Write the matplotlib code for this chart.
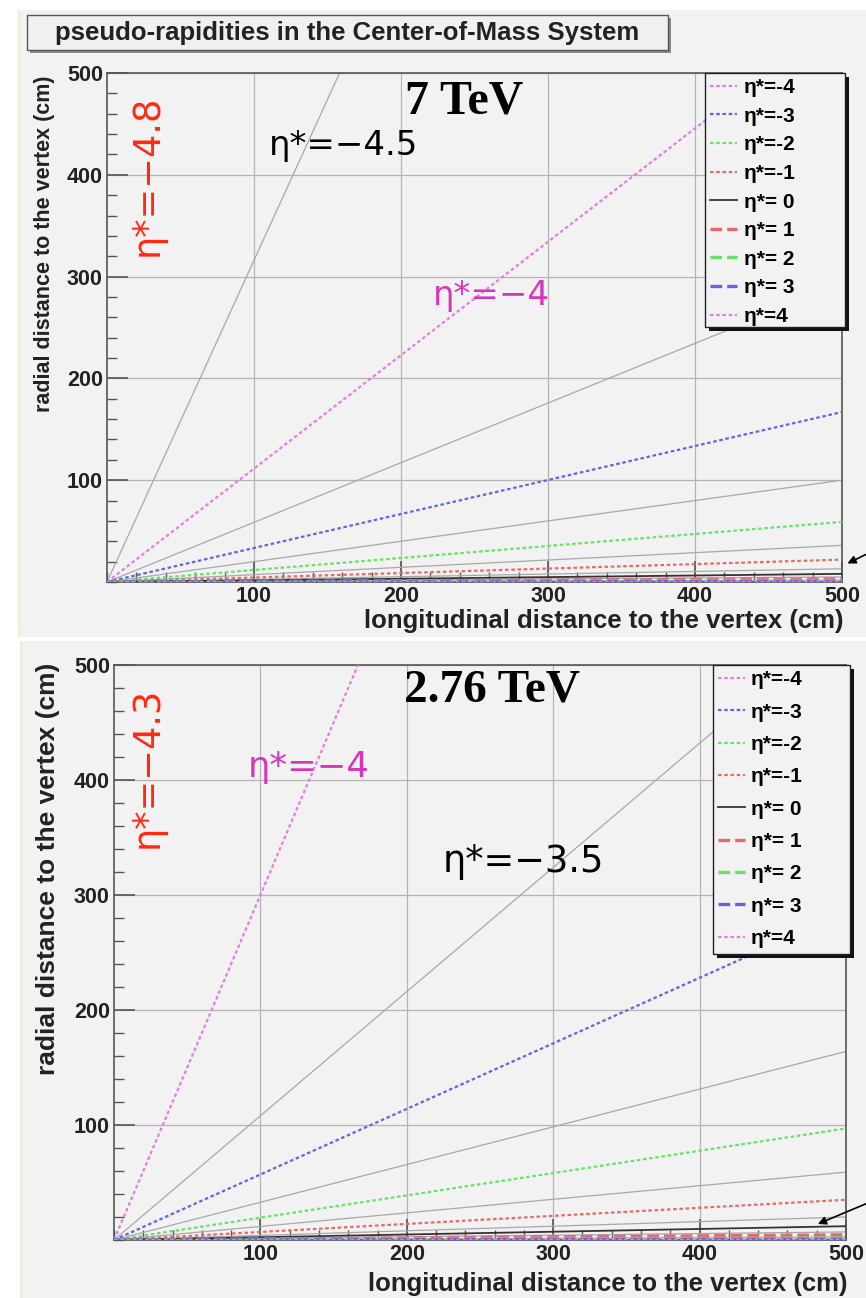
import matplotlib
matplotlib.use("Agg")
import matplotlib.pyplot as plt
from matplotlib.patches import Rectangle
from matplotlib.ticker import MultipleLocator

plt.rcParams['font.family'] = ['Liberation Sans', 'DejaVu Sans']

W, H = 866, 1298

# eta* values of the coloured lines and the legend texts
eta_major = [-4, -3, -2, -1, 0, 1, 2, 3, 4]
legend_labels = ["η*=-4", "η*=-3", "η*=-2", "η*=-1", "η*= 0",
                 "η*= 1", "η*= 2", "η*= 3", "η*=4"]
# radial distance (cm) reached at z = 500 cm
r500_7tev = [557, 167, 59, 22, 8, 3.0, 1.1, 0.4, 0.15]
r500_276tev = [1500, 285, 97, 35, 12, 4.5, 1.6, 0.6, 0.2]

# grey half-integer lines (eta* = -4.5 ... 3.5), r at z = 500 cm
r500_7tev_half = [1580, 293, 100, 36, 13, 5.0, 1.8, 0.7, 0.25]
r500_276tev_half = [540, 164, 59, 20, 7, 2.6, 0.95, 0.35]

z_end = [0, 500]

colors = ['#e27ee2', '#6464e2', '#66e266', '#e66a6a', '#333333',
          '#e66a6a', '#66e266', '#6464e2', '#e27ee2']
styles = [(0, (1.6, 1.2))] * 4 + ['-'] + [(0, (3.5, 1.5))] * 3 + [(0, (1.6, 1.2))]
widths = [1.6] * 4 + [1.3] + [2.4] * 3 + [1.6]

bg = '#f2f2f2'


def px(x, y):
    return x / W, 1 - y / H


def pad_rect(fig, x0, y0, x1, y1, z=-10, **kw):
    fx, fy = px(x0, y1)
    fig.patches.append(Rectangle((fx, fy), (x1 - x0) / W, (y1 - y0) / H,
                                 transform=fig.transFigure, zorder=z, **kw))


def panel(ax, r_major, r_half, leg_box, leg_spacing, ax_px):
    ax.set_facecolor(bg)
    for r in r_half:
        ax.plot(z_end, [0, r], color='#a8a8a8', lw=0.9, zorder=2)
    for i in range(len(eta_major)):
        ax.plot(z_end, [0, r_major[i]], color=colors[i], ls=styles[i],
                lw=widths[i], label=legend_labels[i], zorder=3)
    ax.set_xlim(0, 500)
    ax.set_ylim(0, 500)
    ax.set_xticks([100, 200, 300, 400, 500])
    ax.set_yticks([100, 200, 300, 400, 500])
    ax.xaxis.set_minor_locator(MultipleLocator(20))
    ax.yaxis.set_minor_locator(MultipleLocator(20))
    ax.tick_params(which='major', direction='in', length=15, width=1.2,
                   color='#555555', labelsize=15.5, labelcolor='#222222', pad=3)
    ax.tick_params(which='minor', direction='in', length=7, width=1,
                   color='#555555')
    for lab in ax.get_xticklabels() + ax.get_yticklabels():
        lab.set_fontweight('bold')
    ax.grid(True, which='major', color='#b4b4b4', lw=0.9)
    ax.set_axisbelow(True)
    for s in ax.spines.values():
        s.set_color('#555555')
        s.set_linewidth(1.2)

    # ROOT-style legend box with hard shadow
    x0, y0, x1, y1 = leg_box
    dx, dy = 4 / ax_px[0], 4 / ax_px[1]
    ax.add_patch(Rectangle((x0 + dx, y0 - dy), x1 - x0, y1 - y0,
                           transform=ax.transAxes, facecolor='#111111',
                           edgecolor='none', clip_on=False, zorder=8))
    ax.add_patch(Rectangle((x0, y0), x1 - x0, y1 - y0,
                           transform=ax.transAxes, facecolor=bg,
                           edgecolor='#222222', lw=1.0, clip_on=False, zorder=9))
    leg = ax.legend(loc='upper left', bbox_to_anchor=(x0, y1),
                    labelspacing=leg_spacing,
                    handlelength=1.3, handletextpad=0.3, borderpad=0.25,
                    borderaxespad=0.0, frameon=False,
                    prop={'weight': 'bold', 'size': 15})
    leg.set_zorder(10)


fig = plt.figure(figsize=(W / 100, H / 100), dpi=100, facecolor='white')

# ROOT canvas pads
pad_rect(fig, 18, 10, 866, 637, facecolor=bg, edgecolor='none')
pad_rect(fig, 20, 641, 866, 1298, facecolor=bg, edgecolor='none')
pad_rect(fig, 18, 10, 20, 637, facecolor='#efeccf', edgecolor='none')
pad_rect(fig, 20, 641, 22, 1298, facecolor='#efeccf', edgecolor='none')

# title box
pad_rect(fig, 30, 18, 671, 53, z=5, facecolor='#8a8a8a', edgecolor='none')
pad_rect(fig, 27, 15, 668, 50, z=6, facecolor='#f0f0f0', edgecolor='#555555', lw=1)
fig.text(*px(347, 33), "pseudo-rapidities in the Center-of-Mass System",
         ha='center', va='center', fontsize=18.5, fontweight='bold',
         color='#222222', zorder=7)

# top panel: 7 TeV
ax1 = fig.add_axes([107 / W, 1 - 582 / H, 735 / W, 509 / H])
panel(ax1, r500_7tev, r500_7tev_half, (0.8136, 0.501, 1.004, 1.0), 0.46,
      (735, 509))

# bottom panel: 2.76 TeV
ax2 = fig.add_axes([114 / W, 1 - 1240 / H, 732 / W, 575 / H])
panel(ax2, r500_276tev, r500_276tev_half, (0.818, 0.497, 1.005, 1.0), 0.64,
      (732, 575))

# axis titles
fig.text(*px(843, 621), "longitudinal distance to the vertex (cm)",
         ha='right', va='center', fontsize=18.5, fontweight='bold', color='#222222')
fig.text(*px(847, 1284), "longitudinal distance to the vertex (cm)",
         ha='right', va='center', fontsize=18.5, fontweight='bold', color='#222222')
fig.text(*px(45, 75), "radial distance to the vertex (cm)", rotation=90,
         ha='center', va='top', fontsize=15.5, fontweight='bold', color='#222222')
fig.text(*px(48, 663), "radial distance to the vertex (cm)", rotation=90,
         ha='center', va='top', fontsize=19, fontweight='bold', color='#222222')

# annotations
ann = dict(family='DejaVu Sans')
fig.text(*px(464, 102), "7 TeV", ha='center', va='center', fontsize=34.5,
         fontweight='bold', family='Liberation Serif', color='black')
fig.text(*px(492, 691), "2.76 TeV", ha='center', va='center', fontsize=34,
         fontweight='bold', family='Liberation Serif', color='black')

fig.text(*px(147, 175), "η*=\u22124.8", rotation=90, ha='center', va='center',
         fontsize=26.5, color='#ff2a10', **ann)
fig.text(*px(147, 767), "η*=\u22124.3", rotation=90, ha='center', va='center',
         fontsize=26.5, color='#ff2a10', **ann)
fig.text(*px(344, 145), "η*=\u22124.5", ha='center', va='center',
         fontsize=24.5, color='black', **ann)
fig.text(*px(491, 295), "η*=\u22124", ha='center', va='center',
         fontsize=24.5, color='#d836b8', **ann)
fig.text(*px(309, 767), "η*=\u22124", ha='center', va='center',
         fontsize=25.5, color='#d836b8', **ann)
fig.text(*px(523, 862), "η*=\u22123.5", ha='center', va='center',
         fontsize=26.5, color='black', **ann)

# arrows pointing at the eta*=0 region
ax1.annotate("", xy=(502, 17), xycoords='data',
             xytext=px(875, 550), textcoords='figure fraction',
             arrowprops=dict(arrowstyle='-|>', color='black', lw=1.2,
                             mutation_scale=12), annotation_clip=False)
ax2.annotate("", xy=(479, 13), xycoords='data',
             xytext=px(875, 1200), textcoords='figure fraction',
             arrowprops=dict(arrowstyle='-|>', color='black', lw=1.2,
                             mutation_scale=12), annotation_clip=False)

fig.savefig("out.png", dpi=100, facecolor=fig.get_facecolor())
